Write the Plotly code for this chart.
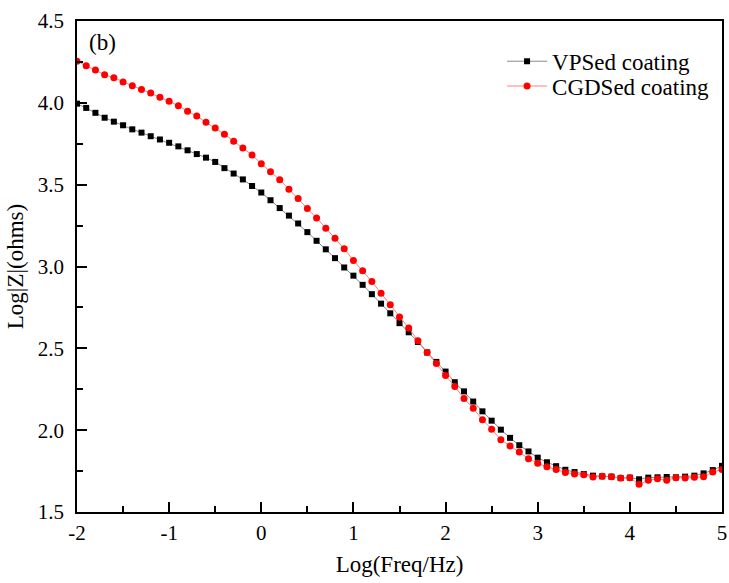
import plotly.graph_objects as go

log_freq = [round(-2 + 0.1 * i, 1) for i in range(71)]

vpsed = [3.995, 3.969, 3.939, 3.909, 3.885, 3.863, 3.838, 3.818, 3.796, 3.776,
         3.756, 3.734, 3.710, 3.687, 3.665, 3.639, 3.601, 3.568, 3.532, 3.492,
         3.452, 3.405, 3.357, 3.311, 3.263, 3.210, 3.157, 3.105, 3.051, 2.994,
         2.944, 2.888, 2.831, 2.773, 2.714, 2.654, 2.598, 2.539, 2.475, 2.417,
         2.358, 2.293, 2.237, 2.175, 2.115, 2.058, 2.003, 1.953, 1.908, 1.870,
         1.832, 1.804, 1.780, 1.758, 1.744, 1.732, 1.722, 1.718, 1.716, 1.707,
         1.710, 1.700, 1.710, 1.712, 1.714, 1.712, 1.716, 1.722, 1.736, 1.756,
         1.782]

cgdsed = [4.254, 4.227, 4.201, 4.172, 4.154, 4.128, 4.104, 4.082, 4.060, 4.034,
          4.009, 3.982, 3.949, 3.919, 3.881, 3.846, 3.808, 3.766, 3.724, 3.681,
          3.628, 3.579, 3.530, 3.472, 3.415, 3.355, 3.296, 3.234, 3.172, 3.109,
          3.037, 2.974, 2.908, 2.836, 2.767, 2.692, 2.624, 2.547, 2.475, 2.408,
          2.334, 2.267, 2.193, 2.134, 2.064, 2.006, 1.941, 1.904, 1.867, 1.826,
          1.798, 1.776, 1.760, 1.742, 1.732, 1.728, 1.714, 1.718, 1.716, 1.707,
          1.710, 1.669, 1.694, 1.703, 1.694, 1.710, 1.707, 1.712, 1.716, 1.744,
          1.760]

x_tickvals = [-2, -1, 0, 1, 2, 3, 4, 5]
x_ticktext = ["-2", "-1", "0", "1", "2", "3", "4", "5"]
y_tickvals = [1.5, 2.0, 2.5, 3.0, 3.5, 4.0, 4.5]
y_ticktext = ["1.5", "2.0", "2.5", "3.0", "3.5", "4.0", "4.5"]

FONT = "Liberation Serif, serif"

fig = go.Figure()
fig.add_trace(go.Scatter(
    x=log_freq, y=vpsed, mode="lines+markers", name="VPSed coating",
    line=dict(color="#888888", width=1),
    marker=dict(symbol="square", size=6, color="black"),
    legend="legend",
))
fig.add_trace(go.Scatter(
    x=log_freq, y=cgdsed, mode="lines+markers", name="CGDSed coating",
    line=dict(color="#ff8080", width=1),
    marker=dict(symbol="circle", size=7, color="red"),
    legend="legend2",
))

axis_common = dict(
    showline=True, linecolor="black", linewidth=1.5, mirror=True,
    ticks="inside", ticklen=10, tickwidth=1.5, tickcolor="black",
    showgrid=False, zeroline=False, ticklabeloverflow="allow",
    automargin=False,
)

fig.update_xaxes(
    range=[-2, 5], tickvals=x_tickvals, ticktext=x_ticktext,
    ticklabelstandoff=1,
    tickfont=dict(family=FONT, size=21, color="black"),
    title=dict(text="Log(Freq/Hz)", font=dict(family=FONT, size=23, color="black"), standoff=12),
    minor=dict(ticks="inside", ticklen=6, tickwidth=1.5, tickcolor="black", dtick=0.5, tick0=0),
    **axis_common,
)
fig.update_yaxes(
    range=[1.5, 4.5], tickvals=y_tickvals, ticktext=y_ticktext,
    ticklabelstandoff=7,
    tickfont=dict(family=FONT, size=21, color="black"),
    title=dict(text="Log|Z|(ohms)", font=dict(family=FONT, size=23, color="black"), standoff=8),
    minor=dict(ticks="inside", ticklen=6, tickwidth=1.5, tickcolor="black", dtick=0.25, tick0=0),
    **axis_common,
)

fig.add_annotation(
    x=0.015, y=0.985, xref="paper", yref="paper", xanchor="left", yanchor="top",
    text="(b)", showarrow=False, font=dict(family=FONT, size=23, color="black"),
)

legend_style = dict(
    xanchor="left", yanchor="middle", bgcolor="rgba(0,0,0,0)",
    font=dict(family=FONT, size=23, color="black"), itemwidth=40,
)

fig.update_layout(
    width=729, height=583,
    margin=dict(l=77, r=7, t=21, b=71),
    paper_bgcolor="white", plot_bgcolor="white",
    font=dict(family=FONT, size=21, color="black"),
    legend=dict(x=0.659, y=0.918, **legend_style),
    legend2=dict(x=0.659, y=0.8675, **legend_style),
    showlegend=True,
)

# remove the browser's default body margin so the figure fills the window exactly
fig.write_html(
    "out.html",
    config={"displayModeBar": False},
    post_script="document.body.style.margin='0';document.body.style.overflow='hidden';",
)
